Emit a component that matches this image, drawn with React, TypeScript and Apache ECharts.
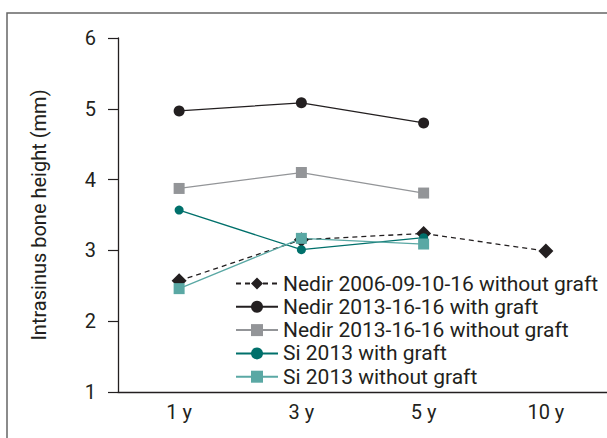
import React, { useEffect, useRef } from "react";
import * as echarts from "echarts";

const categories = ["1 y", "3 y", "5 y", "10 y"];
const nedir2006Without = [2.57, 3.15, 3.24, 2.99];
const nedir2013With = [4.97, 5.085, 4.8, null];
const nedir2013Without = [3.875, 4.1, 3.81, null];
const si2013With = [3.57, 3.01, 3.18, null];
const si2013Without = [2.46, 3.17, 3.09, null];
const yTicks = [1, 2, 3, 4, 5, 6];

const FONT = "Roboto";
const INK = "#231f20";

export default function App() {
  const ref = useRef<HTMLDivElement>(null);
  useEffect(() => {
    if (!ref.current) return;
    const chart = echarts.init(ref.current, undefined, { renderer: "svg" });
    const mk = (name: string, data: any[], color: string, symbol: string, size: number, dashed = false, width = 1.3) => ({
      name,
      type: "line",
      data,
      symbol,
      symbolSize: size,
      connectNulls: false,
      itemStyle: { color },
      lineStyle: { color, width, type: dashed ? [5, 4] : "solid" },
    });
    chart.setOption({
      animation: false,
      backgroundColor: "#fff",
      textStyle: { fontFamily: FONT },
      graphic: [
        {
          type: "rect",
          shape: { x: 7, y: 13, width: 620, height: 450 },
          style: { fill: "none", stroke: "#666", lineWidth: 1.5 },
          silent: true,
        },
      ],
      grid: { left: 118, top: 38, right: 0, bottom: 46, containLabel: false },
      legend: {
        orient: "vertical",
        left: 230,
        top: 268,
        padding: 5,
        itemWidth: 42,
        itemHeight: 15,
        itemGap: 2.3,
        textStyle: { fontFamily: FONT, fontSize: 21, color: INK },
        data: [
          "Nedir 2006-09-10-16 without graft",
          "Nedir 2013-16-16 with graft",
          "Nedir 2013-16-16 without graft",
          "Si 2013 with graft",
          "Si 2013 without graft",
        ],
      },
      xAxis: {
        type: "category",
        data: categories,
        boundaryGap: true,
        axisLine: { lineStyle: { color: INK, width: 1.3 } },
        axisTick: { show: false },
        axisLabel: { color: INK, fontSize: 20, fontFamily: FONT, margin: 10 },
      },
      yAxis: {
        type: "value",
        min: yTicks[0],
        max: yTicks[yTicks.length - 1],
        interval: 1,
        name: "Intrasinus bone height (mm)",
        nameLocation: "middle",
        nameGap: 69,
        nameTextStyle: { color: INK, fontSize: 20, fontFamily: FONT },
        axisLine: { show: true, lineStyle: { color: INK, width: 1.3 } },
        axisTick: { show: true, inside: false, length: 10, lineStyle: { color: INK, width: 1.2 } },
        splitLine: { show: false },
        axisLabel: { color: INK, fontSize: 20, fontFamily: FONT, margin: 22 },
      },
      series: [
        mk("Nedir 2006-09-10-16 without graft", nedir2006Without, INK, "diamond", 15, true),
        mk("Nedir 2013-16-16 with graft", nedir2013With, INK, "circle", 11),
        mk("Nedir 2013-16-16 without graft", nedir2013Without, "#939598", "rect", 11),
        mk("Si 2013 with graft", si2013With, "#00706b", "circle", 9),
        mk("Si 2013 without graft", si2013Without, "#5aa8a4", "rect", 11),
      ],
    });
    return () => chart.dispose();
  }, []);
  return <div ref={ref} style={{ width: 607, height: 438, position: "absolute", left: 0, top: 0 }} />;
}
